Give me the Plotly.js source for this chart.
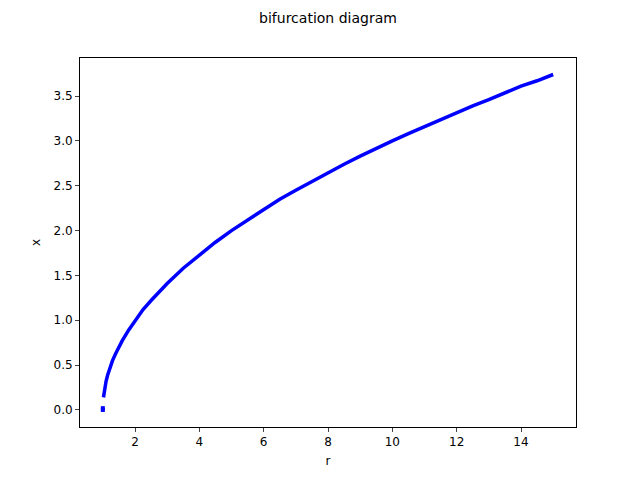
<!DOCTYPE html>
<html>
<head>
<script src="https://cdn.plot.ly/plotly-3.0.1.min.js"></script>
<style>body{margin:0}#plot{width:640px;height:480px}</style>
</head>
<body>
<div id="plot"></div>
<script>
// values
var rVals = [1.02, 1.05, 1.1, 1.15, 1.2, 1.3, 1.4, 1.5, 1.6, 1.8, 2, 2.25, 2.5, 2.75, 3, 3.5, 4, 4.5, 5, 5.5, 6, 6.5, 7, 7.5, 8, 8.5, 9, 9.5, 10, 10.5, 11, 11.5, 12, 12.5, 13, 13.5, 14, 14.5, 15];
var xVals = [0.14, 0.22, 0.32, 0.39, 0.45, 0.55, 0.63, 0.71, 0.77, 0.89, 1.0, 1.12, 1.22, 1.32, 1.41, 1.58, 1.73, 1.87, 2.0, 2.12, 2.24, 2.35, 2.45, 2.55, 2.65, 2.74, 2.83, 2.92, 3.0, 3.08, 3.16, 3.24, 3.32, 3.39, 3.46, 3.54, 3.61, 3.67, 3.74];
var rZero = [1, 1];
var xZero = [0, 0.02];

var axisStyle = {
  showgrid: false, zeroline: false, showline: true, mirror: true,
  linecolor: 'black', linewidth: 1, ticks: 'outside', ticklen: 4,
  tickfont: {size: 12, color: 'black'}
};

var data = [
  {x: rVals, y: xVals, mode: 'lines', line: {color: 'blue', width: 3.5}, hoverinfo: 'none'},
  {x: rZero, y: xZero, mode: 'markers', marker: {color: 'blue', size: 4, symbol: 'square'}, hoverinfo: 'none'}
];

var layout = {
  width: 640, height: 480,
  margin: {l: 80, r: 64, t: 58, b: 53},
  showlegend: false,
  paper_bgcolor: 'white', plot_bgcolor: 'white',
  font: {family: 'DejaVu Sans', color: 'black'},
  title: {text: 'bifurcation diagram', x: 0.5, xref: 'paper', y: 0.962, yanchor: 'middle', font: {size: 14}},
  xaxis: Object.assign({}, axisStyle, {range: [0.29, 15.71], tickvals: [2, 4, 6, 8, 10, 12, 14],
    title: {text: 'r', font: {size: 12}, standoff: 8}}),
  yaxis: Object.assign({}, axisStyle, {range: [-0.19, 3.924], tickvals: [0, 0.5, 1, 1.5, 2, 2.5, 3, 3.5],
    ticktext: ['0.0', '0.5', '1.0', '1.5', '2.0', '2.5', '3.0', '3.5'],
    title: {text: 'x', font: {size: 12}, standoff: 10}})
};

Plotly.newPlot('plot', data, layout, {displayModeBar: false});
</script>
</body>
</html>
